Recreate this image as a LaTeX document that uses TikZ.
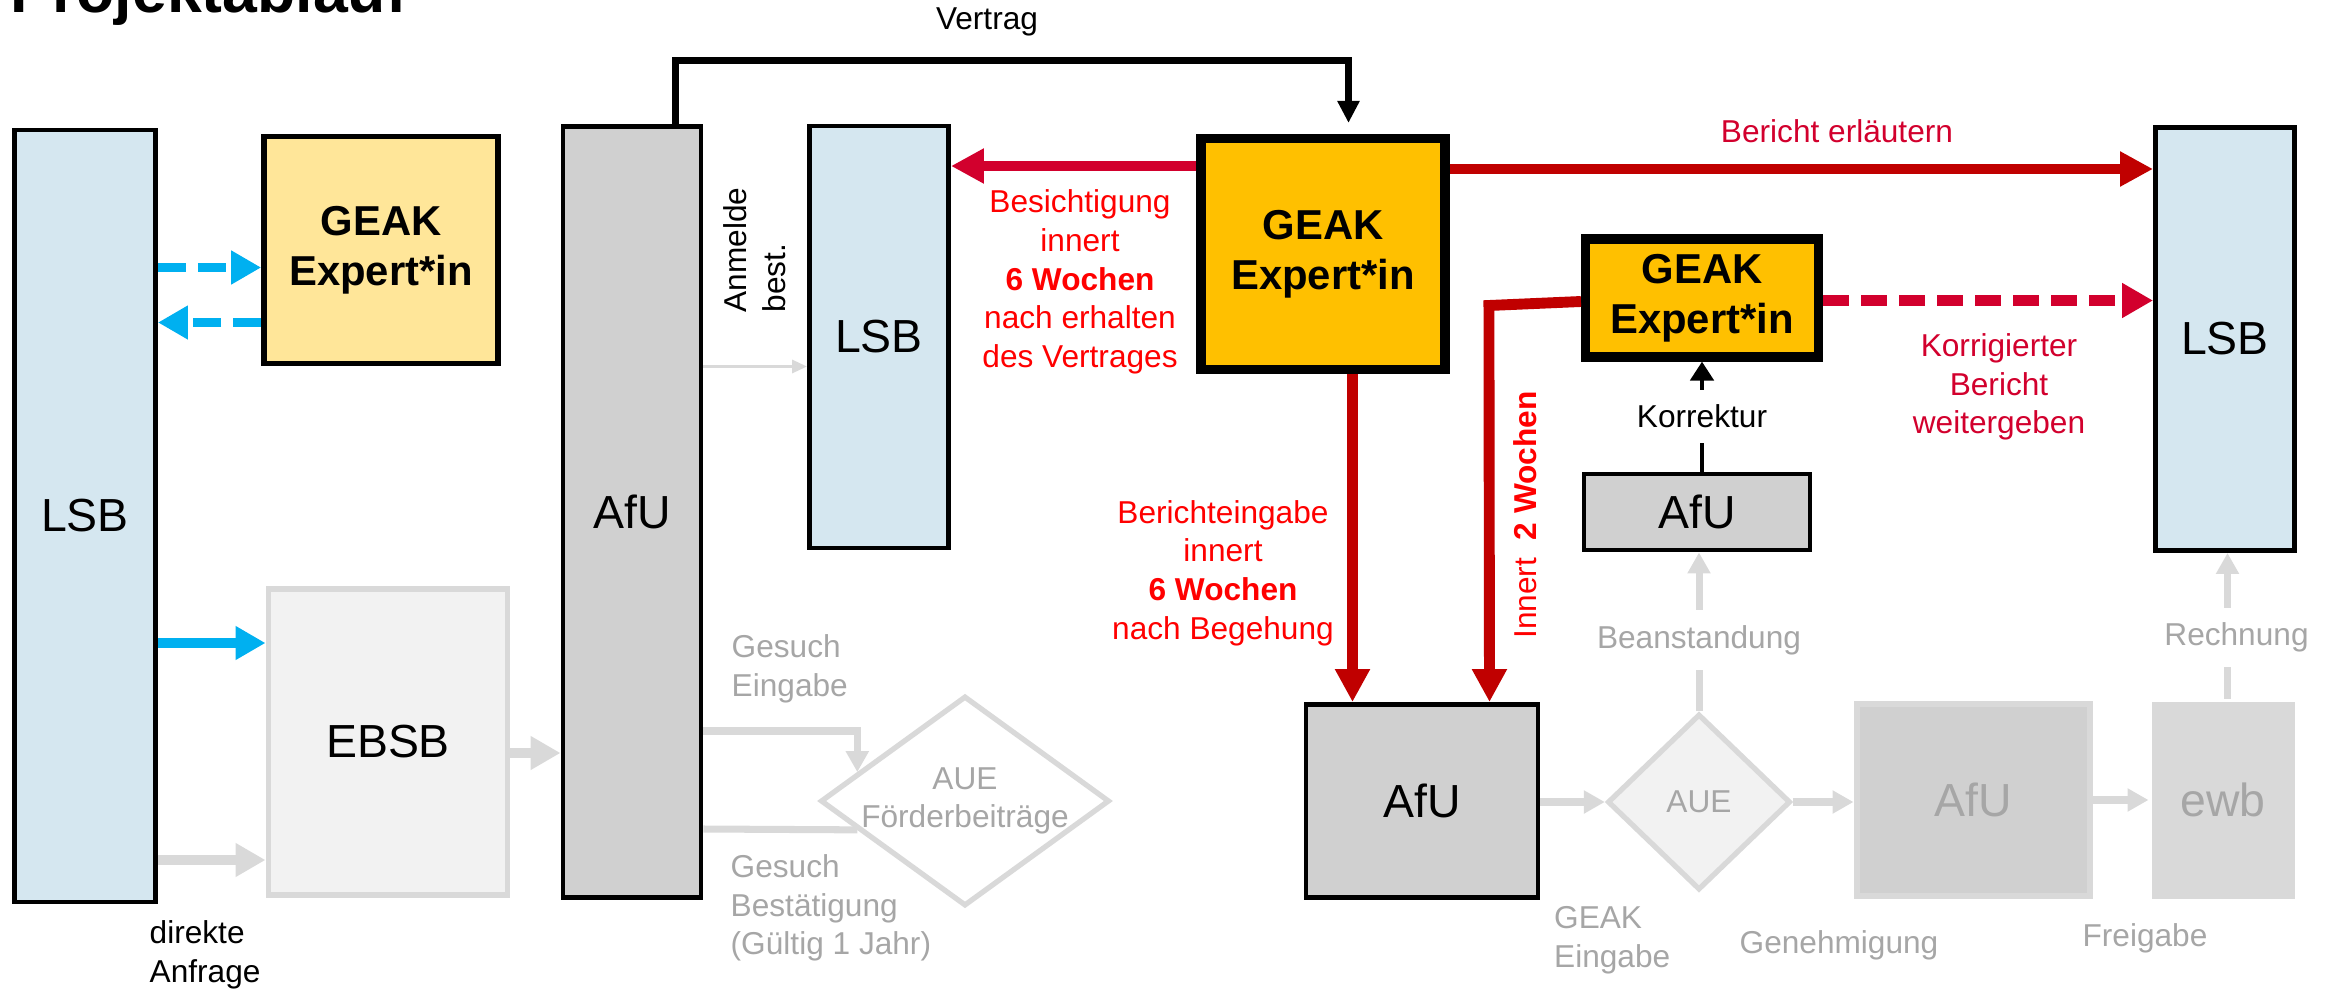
\documentclass[tikz,border=0pt]{standalone}
\usepackage{fontspec}
\setmainfont{Liberation Sans}
\usetikzlibrary{positioning,arrows.meta,shapes.geometric}
\definecolor{lsbblue}{HTML}{D5E7F0}
\definecolor{paleyellow}{HTML}{FFE699}
\definecolor{gold}{HTML}{FFC000}
\definecolor{afugray}{HTML}{D0D0D0}
\definecolor{fadefill}{HTML}{F2F2F2}
\definecolor{fadeline}{HTML}{D9D9D9}
\definecolor{fadetext}{HTML}{A6A6A6}
\definecolor{cyanblue}{HTML}{00B0F0}
\definecolor{darkred}{HTML}{C00000}
\definecolor{crimson}{HTML}{D2002D}
\definecolor{brightred}{HTML}{FF0000}

\begin{document}
\begin{tikzpicture}[
  x=0.1mm, y=-0.1mm,
  font=\fontsize{9}{11}\selectfont,
  box/.style={draw=black, line width=1.4pt, inner sep=0pt,
              font=\fontsize{13.2}{15}\selectfont},
  lsb/.style={box, fill=lsbblue, minimum width=13.9mm},
  afu/.style={box, fill=afugray},
  geak/.style={box, fill=gold, line width=2.6pt, align=center,
               font=\fontsize{11.9}{14.2}\selectfont\bfseries},
  faded/.style={box, draw=fadeline, line width=1.7pt, fill=fadefill},
  fadeddia/.style={diamond, draw=fadeline, line width=1.5pt, inner sep=0pt,
                   align=center, text=fadetext},
  note/.style={inner sep=0pt, align=center},
  rednote/.style={note, text=brightred},
  graynote/.style={note, text=fadetext},
  gap/.style={fill=white, inner xsep=0pt, inner ysep=1.5mm},
  redflow/.style={darkred, line width=3.1pt,
                  -{Triangle[length=3.3mm, width=3.3mm]}},
  reddash/.style={crimson, line width=3.1pt, dash pattern=on 2.6mm off 1.2mm,
                  -{Triangle[length=3.1mm, width=3.3mm]}},
  blueflow/.style={cyanblue, line width=2.8pt,
                   -{Triangle[length=3mm, width=3.2mm]}},
  bluedash/.style={blueflow, dash pattern=on 2.8mm off 1.2mm},
  blackflow/.style={black, line width=2pt,
                    -{Triangle[length=2.2mm, width=2.1mm]}},
  fadeflow/.style={fadeline, line width=2.8pt,
                   -{Triangle[length=3mm, width=3.2mm]}},
  fadethin/.style={fadeline, line width=2pt,
                   -{Triangle[length=2.1mm, width=2.2mm]}},
]
\useasboundingbox (0,0) rectangle (2338,992);

% ---- Title (cut at the top) --------------------------------------------------
\node[font=\fontsize{17.8}{20}\selectfont\bfseries, anchor=base west,
      inner sep=0pt] (title) at (10,12) {Projektablauf};

% ---- Left column -------------------------------------------------------------
\node[lsb, minimum height=77.2mm, minimum width=14.1mm] (lsbA) at (85,516) {LSB};
\node[geak, fill=paleyellow, line width=1.6pt, minimum width=23.4mm,
      minimum height=22.7mm] (geakA) at (381,250) {GEAK\\Expert*in};
\node[faded, minimum width=23.9mm, minimum height=30.6mm] (ebsb) at (388,742) {EBSB};
\node[afu, minimum width=13.8mm, minimum height=77.1mm] (afuA) at (632,512) {AfU};
\node[fadeddia, fill=white, aspect=1.37, inner sep=-0.5mm, minimum width=28.9mm,
      minimum height=21mm] (aueA) at (965,801) {AUE\\Förderbeiträge};

% ---- Middle ------------------------------------------------------------------
\node[lsb, minimum height=42.2mm] (lsbB) at (879,337) {LSB};
\node[geak, minimum width=24.4mm, minimum height=23.1mm] (geakB) at (1323,254) {GEAK\\Expert*in};
\node[afu, minimum width=23.2mm, minimum height=19.3mm] (afuB) at (1422,801) {AfU};

% ---- Right part --------------------------------------------------------------
\node[geak, minimum width=23.3mm, minimum height=11.8mm] (geakC) at (1702,298) {GEAK\\Expert*in};
\node[afu, minimum width=22.6mm, minimum height=7.6mm] (afuK) at (1697,512) {AfU};
\node[lsb, minimum height=42.3mm] (lsbC) at (2225,339) {LSB};
\node[fadeddia, fill=fadefill, minimum width=18.3mm, minimum height=17.6mm]
  (aueB) at (1699,802) {AUE};
\node[faded, fill=afugray, text=fadetext, minimum width=23.3mm,
      minimum height=19.2mm] (afuG) at (1973,800) {AfU};
\node[faded, draw=none, fill=fadeline, text=fadetext, minimum width=14.3mm,
      minimum height=19.7mm] (ewb) at (2223,800) {ewb};

% ---- Labels ------------------------------------------------------------------
\node[note] (vertrag) at (987,22) {Vertrag};
\node[note, rotate=90, anchor=west, align=left] (anmelde) at (755,313) {Anmelde\\best.};
\node[note, anchor=west, align=left] (direkt) at (149,955) {direkte\\Anfrage};
\node[rednote] (besicht) at (1080,282)
  {Besichtigung\\innert\\\textbf{6 Wochen}\\nach erhalten\\des Vertrages};
\node[rednote] (bereing) at (1223,573)
  {Berichteingabe\\innert\\\textbf{6 Wochen}\\nach Begehung};
\node[rednote, rotate=90] (innert) at (1525,515) {Innert\ \ \textbf{2 Wochen}};
\node[rednote, text=crimson] (erlaeut) at (1837,131) {Bericht erläutern};
\node[rednote, text=crimson] (korrber) at (1999,387) {Korrigierter\\Bericht\\weitergeben};
\node[graynote, anchor=west, align=left] (gesEin) at (731,669) {Gesuch\\Eingabe};
\node[graynote, anchor=west, align=left] (gesBest) at (730,908)
  {Gesuch\\Bestätigung\\(Gültig 1 Jahr)};
\node[graynote, align=left, below right=0.6mm and 1.3mm of afuB.south east]
  (geakEin) {GEAK\\Eingabe};
\node[graynote] (genehm) at (1839,945) {Genehmigung};
\node[graynote] (freig) at (2145,938) {Freigabe};

% ---- Arrows ------------------------------------------------------------------
\draw[bluedash] ([yshift=-1.75mm]geakA.west -| lsbA.east) -- ([yshift=-1.75mm]geakA.west);
\draw[bluedash] ([yshift=-7.25mm]geakA.west) -- ([yshift=-7.25mm]geakA.west -| lsbA.east);
\draw[blueflow] ([yshift=9.9mm]ebsb.west -| lsbA.east) -- ([yshift=9.9mm]ebsb.west);
\draw[fadeflow] ([yshift=-11.8mm]ebsb.west -| lsbA.east) -- ([yshift=-11.8mm]ebsb.west);
\draw[fadeflow] ([yshift=-1.1mm]ebsb.east) -- ([yshift=-1.1mm]ebsb.east -| afuA.west);
\draw[fadeline, line width=0.9pt, -{Triangle[length=1.5mm, width=1.3mm]}]
  ([yshift=-2.95mm]lsbB.west -| afuA.east) -- ([yshift=-2.95mm]lsbB.west);
\draw[fadethin] ([yshift=7mm]afuA.east |- aueA) -| (aueA.165);
\draw[fadeline, line width=2pt] ([yshift=-2.8mm]afuA.east |- aueA) -- (aueA.195);

\draw[blackflow] ([xshift=4.35mm]afuA.north) -- ++(0,-64)
  -| ([xshift=2.55mm, yshift=1.1mm]geakB.north);
\draw[redflow, crimson] ([yshift=8.8mm]geakB.west) -- ([yshift=8.8mm]geakB.west -| lsbB.east);
\draw[redflow] ([yshift=8.5mm]geakB.east) -- ([yshift=8.5mm]geakB.east -| lsbC.west);
\draw[redflow] ([xshift=2.95mm]geakB.south) -- ([xshift=2.95mm]geakB.south |- afuB.north);
\draw[redflow] ([yshift=-0.35mm]geakC.west) -- ++(-92,4) -- ([xshift=6.75mm]afuB.north);
\draw[reddash] ([yshift=-0.25mm]geakC.east) -- ([yshift=-0.25mm]geakC.east -| lsbC.west);

\draw[blackflow, line width=1.4pt, -{Triangle[length=1.9mm, width=2.3mm]}]
  (geakC.south |- afuK.north) -- node[gap] (korrektur) {Korrektur} (geakC.south);
\draw[fadethin] (aueB.north) -- node[gap, pos=0.45, text=fadetext] (beanst) {Beanstandung}
  (aueB.north |- afuK.south);
\draw[fadethin] ([xshift=0.45mm]ewb.north) -- node[gap, pos=0.42, text=fadetext,
  xshift=0.9mm] (rechnung) {Rechnung} ([xshift=0.45mm]ewb.north |- lsbC.south);
\draw[fadethin] (afuB.east |- aueB.west) -- (aueB.west);
\draw[fadethin] (aueB.east) -- (aueB.east -| afuG.west);
\draw[fadethin] (afuG.east) -- (ewb.west);

\end{tikzpicture}
\end{document}
